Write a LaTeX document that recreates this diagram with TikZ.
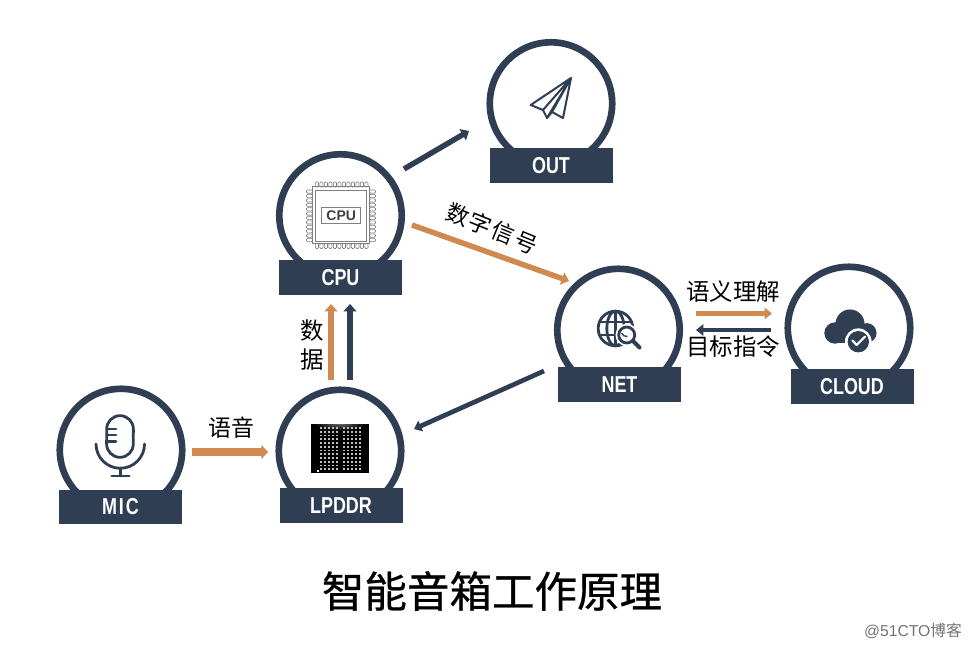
\documentclass[tikz,border=0pt]{standalone}
\usepackage{fontspec}
\setmainfont{Liberation Sans}
\newfontfamily\cjk{Noto Sans CJK SC}
\newfontfamily\cjkheavy[FakeBold=0.7]{Noto Sans CJK SC}
\newfontfamily\cjkwide[LetterSpace=8]{Noto Sans CJK SC}
\newfontfamily\tagfont[FakeStretch=0.78]{Liberation Sans Bold}
\newfontfamily\tagwide[FakeStretch=0.78,LetterSpace=8]{Liberation Sans Bold}
\usetikzlibrary{arrows.meta,calc}
\definecolor{navy}{HTML}{2F3E52}
\definecolor{ochre}{HTML}{D08A50}
\definecolor{chipgray}{HTML}{808080}
\tikzset{
  ring/.style={circle,draw=navy,line width=5pt,inner sep=0pt,outer sep=0pt,minimum size=91.8pt},
  tagbox/.style={rectangle,fill=navy,text=white,inner sep=0pt,outer sep=0pt,minimum width=92.25pt,minimum height=26pt,font=\tagfont\fontsize{17.25pt}{20pt}\selectfont},
  flow/.style={line width=4.1pt,-{Triangle[length=5.5pt,width=9.5pt]}},
  flowthin/.style={line width=3.5pt,-{Triangle[length=5.5pt,width=8.5pt]}},
  flowthick/.style={line width=5.5pt,-{Triangle[length=5pt,width=10.5pt]}},
  cjklabel/.style={inner sep=0pt,outer sep=0pt,text=black,font=\cjk\fontsize{17.6pt}{20pt}\selectfont},
  icon/.style={navy,line width=2.1pt,line cap=round,line join=round},
  pin/.style={draw=chipgray,line width=.45pt,rounded corners=.8pt}
}
\begin{document}
\begin{tikzpicture}[x=.75pt,y=-.75pt]
\useasboundingbox (0,0) rectangle (972,650);
% rings
\node[ring] (out) at (551,103.5) {};
\node[ring] (cpu) at (340.5,215.5) {};
\node[ring] (net) at (618.5,330) {};
\node[ring] (cloud) at (849,328) {};
\node[ring] (mic) at (121,450) {};
\node[ring] (lpddr) at (340,451) {};
% tags
\node[tagbox] (outTag) at (551,165.5) {OUT};
\node[tagbox] (cpuTag) at (340.5,277.5) {CPU};
\node[tagbox] (netTag) at (619.5,384.5) {NET};
\node[tagbox] (cloudTag) at (852,386.5) {CLOUD};
\node[tagbox,font=\tagwide\fontsize{17.25pt}{20pt}\selectfont] (micTag) at (120.5,507) {MIC};
\node[tagbox] (lpddrTag) at (341,505.5) {LPDDR};
% connectors
\draw[flow,navy] ([shift={(63.5,-46.5)}]cpu.center) -- ([shift={(-82,27.5)}]out.center);
\draw[flow,ochre] ([shift={(71.5,9.5)}]cpu.center) -- ([shift={(-49.5,-49)}]net.center);
\draw[flowthin,navy] ([shift={(-74.5,41)}]net.center) -- ([shift={(74,-22)}]lpddr.center);
\draw[flow,navy] ([shift={(10,-71)}]lpddr.center) -- ([shift={(9.5,88.5)}]cpu.center);
\draw[flow,ochre] ([shift={(-9,-71)}]lpddr.center) -- ([shift={(-9.5,88.5)}]cpu.center);
\draw[flowthick,ochre] ([shift={(71,2)}]mic.center) -- ([shift={(-72,1)}]lpddr.center);
\draw[flowthin,ochre] ([shift={(77.5,-16.5)}]net.center) -- ([shift={(-77,-14.5)}]cloud.center);
\draw[flowthin,navy] ([shift={(-78,2)}]cloud.center) -- ([shift={(77.5,0)}]net.center);
% labels
\node[cjklabel] (lblSem) at (733,292) {语义理解};
\node[cjklabel] (lblCmd) at (733,347) {目标指令};
\node[cjklabel,font=\cjk\fontsize{17.25pt}{20pt}\selectfont] (lblVoice) at (231,428) {语音};
\node[cjklabel,font=\cjkwide\fontsize{17pt}{20pt}\selectfont,rotate=-22] (lblDigital) at (492,228.5) {数字信号};
\node[cjklabel] (lblData1) at (312,331) {数};
\node[cjklabel] (lblData2) at (312,360) {据};
\node[inner sep=0pt,font=\cjkheavy\fontsize{31.9pt}{36pt}\selectfont] (title) at (492,591) {智能音箱工作原理};
\node[inner sep=0pt,text=black!55,font=\fontsize{11.8pt}{14pt}\selectfont] (mark) at (913,631) {@51CTO{\cjk 博客}};
% paper plane icon
\draw[navy,line width=1.5pt,line join=round,line cap=round]
  (571,78) -- (530.7,105) -- (543,110) -- (547,118) -- (552,112) -- (563,118) -- cycle
  (571,78) -- (543,110)
  (571,78) -- (552,112)
  (571,78) -- (547,118);
% CPU icon
\draw[chipgray,line width=.6pt] (312.7,186.7) rectangle (369.3,243.3);
\draw[chipgray,line width=.6pt] (315.7,190) rectangle (366.7,241);
\foreach \i in {0,...,11}{
  \path[pin] (315.3+\i*4.5,182) rectangle ++(3.2,5);
  \path[pin] (315.3+\i*4.5,243.5) rectangle ++(3.2,5);
  \path[pin] (306.5,190+\i*4.4) rectangle ++(6,3.2);
  \path[pin] (369.5,190+\i*4.4) rectangle ++(6,3.2);
}
\node[draw=chipgray,line width=.6pt,inner sep=0pt,minimum width=29.2pt,minimum height=11.7pt,text=black!75,font=\bfseries\fontsize{10.5pt}{12pt}\selectfont] (chipName) at (341.2,215.5) {CPU};
% net icon
\begin{scope}[navy,line width=2.1pt]
  \draw (615.5,328.5) circle[radius=13pt];
  \draw (615.5,328.5) ellipse[x radius=6.5pt,y radius=13pt];
  \draw (615.5,311.5) -- (615.5,345.5);
  \draw (600.5,322) -- (630.5,322) (600.5,335) -- (630.5,335);
  \fill[white] (626.7,335) circle[radius=8.4pt];
  \draw (626.7,335) circle[radius=6pt];
  \draw[line width=1pt] (621.5,333) arc[start angle=200,end angle=280,radius=4pt];
  \draw[line width=3pt,line cap=round] (633.5,341.5) -- (639.5,347.5);
\end{scope}
% cloud icon
\fill[navy] (850,324) circle[radius=10.9pt];
\fill[navy] (835,333) circle[radius=8pt];
\fill[navy] (866.7,333) circle[radius=7.4pt];
\fill[navy] (835,328) rectangle (866.7,343);
\fill[white] (858.3,341.7) circle[radius=10pt];
\fill[navy] (858.3,341.7) circle[radius=8pt];
\draw[white,line width=1.6pt,line cap=round,line join=round] (852.3,340.5) -- (856.7,345) -- (865,336.7);
% mic icon
\draw[icon] (106.7,429) arc[start angle=180,end angle=0,radius=10pt] -- (133.3,444) arc[start angle=0,end angle=-180,radius=10pt] -- cycle;
\draw[icon] (108,429) -- (116,429) (108,435) -- (116,435) (108,441.7) -- (116,441.7);
\draw[icon] (96,444) arc[start angle=180,end angle=360,radius=18.2pt];
\draw[icon] (120.2,468) -- (120.2,476) (111.7,476) -- (129.3,476);
% memory chip icon
\fill[black] (311,423.7) rectangle (368.5,473);
\begin{scope}
  \clip (311,423.7) rectangle (368.5,473);
  \foreach \r/\o in {26/.08,21/.10,16/.12,11/.15,6/.18}{
    \fill[white,opacity=\o] (340,421) ellipse[x radius=\r*.75pt,y radius=\r*.28pt];
  }
\end{scope}
\foreach \yy in {0,...,11}{
  \foreach \xx in {0,...,4}{
    \fill[white!75!black] (320+\xx*4,427+\yy*3.75) rectangle ++(1.9,1.9);
    \fill[white!75!black] (342.7+\xx*4,427+\yy*3.75) rectangle ++(1.9,1.9);
  }
}
\fill[white] (317,470) rectangle ++(2,2);
\end{tikzpicture}
\end{document}
